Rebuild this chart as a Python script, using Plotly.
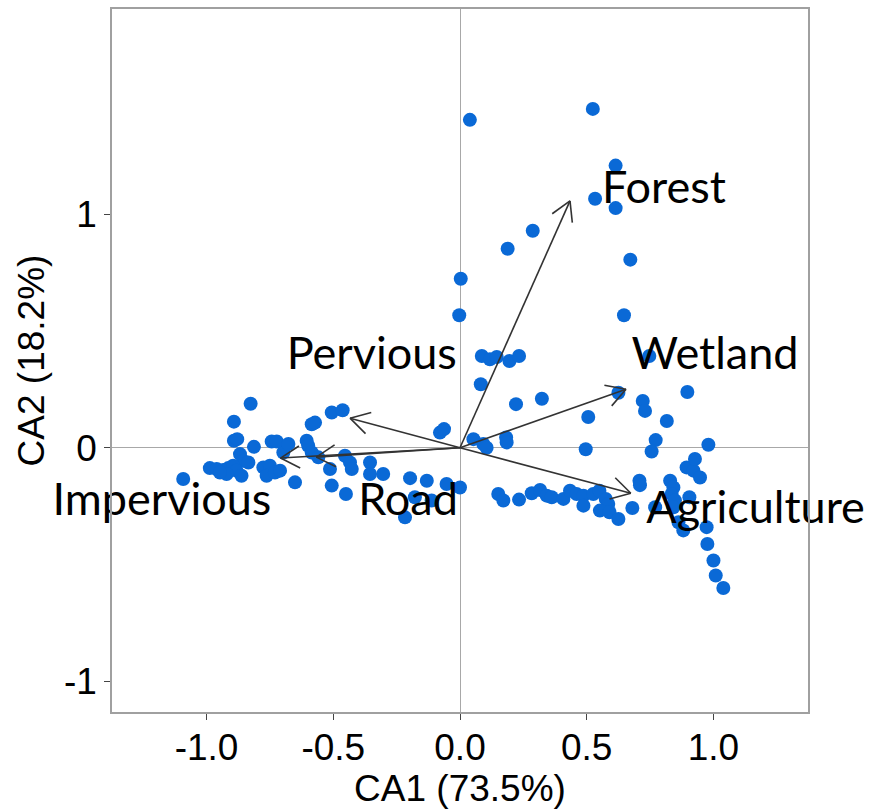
import math
import plotly.graph_objects as go

# Site scores on the first two correspondence-analysis axes
ca1 = [
    0.039, 0.524, 0.614, 0.533, 0.614, 0.287, 0.188, 0.672, 0.003, -0.003,
    0.647, 0.086, 0.118, 0.145, 0.195, 0.233, 0.747,
    0.082, 0.221, 0.323, 0.506, 0.625, 0.897, 0.721, 0.730, 0.816,
    0.772, 0.756, 0.980, 0.496, 0.053, 0.092, 0.105, 0.182, 0.184,
    -0.053, 0.000, 0.151, 0.171, 0.233, 0.283, 0.316, 0.342, 0.362, 0.408,
    0.434, 0.460, 0.487, 0.487, 0.526, 0.550, 0.575, 0.585, 0.552, 0.590,
    0.625, 0.680, 0.708, 0.710, 0.770, 0.829, 0.842, 0.835, 0.848, 0.842,
    0.862, 0.881, 0.894, 0.921, 0.927, 0.947, 0.905, 0.973, 0.976, 1.000,
    1.009, 1.039,
    -0.079, -0.063, -0.197, -0.131, -0.178, -0.112, -0.217, -0.355, -0.355,
    -0.303, -0.454, -0.434, -0.427, -0.513, -0.506, -0.450, -0.506, -0.463,
    -0.585, -0.572, -0.605, -0.599, -0.585, -0.559, -0.651, -0.697, -0.826,
    -0.892, -0.892, -0.879, -0.813, -0.743, -0.723, -0.677, -0.868, -0.855,
    -0.835, -0.987, -0.960, -0.934, -0.914, -0.895, -0.882, -0.862, -0.921,
    -0.947, -0.776, -0.750, -0.763, -0.730, -0.710, -1.092,
]
ca2 = [
    1.405, 1.452, 1.209, 1.067, 1.027, 0.930, 0.853, 0.806, 0.724, 0.568,
    0.568, 0.393, 0.379, 0.389, 0.372, 0.393, 0.393,
    0.272, 0.187, 0.210, 0.132, 0.236, 0.239, 0.201, 0.158, 0.115,
    0.033, -0.016, 0.013, -0.006, 0.037, 0.016, 0.000, 0.044, 0.023,
    -0.155, -0.170, -0.198, -0.226, -0.222, -0.195, -0.181, -0.205, -0.212, -0.219,
    -0.184, -0.198, -0.205, -0.248, -0.198, -0.184, -0.219, -0.241, -0.269, -0.276,
    -0.305, -0.258, -0.141, -0.160, -0.255, -0.141, -0.170, -0.198, -0.226, -0.255,
    -0.319, -0.354, -0.084, -0.098, -0.048, -0.127, -0.212, -0.340, -0.412, -0.483,
    -0.547, -0.601,
    0.065, 0.080, -0.130, -0.141, -0.212, -0.226, -0.298, -0.063, -0.112,
    -0.112, -0.034, -0.063, -0.091, -0.091, -0.162, -0.198, 0.151, 0.161,
    0.101, 0.108, 0.030, 0.009, -0.020, -0.041, -0.148, -0.020, 0.189,
    0.112, 0.030, 0.037, 0.004, 0.027, 0.027, 0.016, -0.027, -0.056,
    -0.063, -0.087, -0.091, -0.095, -0.087, -0.077, -0.098, -0.120, -0.112,
    -0.106, -0.084, -0.077, -0.120, -0.106, -0.098, -0.134,
]

# Land-cover variable loadings (arrow tips) and label anchors
variables = ["Forest", "Wetland", "Agriculture", "Pervious", "Impervious", "Road"]
load_x = [0.434, 0.655, 0.674, -0.434, -0.708, -0.567]
load_y = [1.058, 0.251, -0.195, 0.127, -0.044, -0.040]
label_x = [0.805, 1.006, 1.166, -0.348, -1.176, -0.205]
label_y = [1.098, 0.385, -0.274, 0.385, -0.240, -0.240]

x_ticks = [-1.0, -0.5, 0.0, 0.5, 1.0]
x_tick_text = ["-1.0", "-0.5", "0.0", "0.5", "1.0"]
y_ticks = [-1, 0, 1]
y_tick_text = ["-1", "0", "1"]

X_RANGE = [-1.373, 1.373]
Y_RANGE = [-1.132, 1.880]
W, H = 869, 811
M = dict(l=112, r=61, t=7, b=99)

fig = go.Figure()

fig.add_trace(go.Scatter(
    x=ca1, y=ca2, mode="markers",
    marker=dict(size=14, color="#0a69d6", line=dict(width=0)),
    hoverinfo="skip", showlegend=False,
))

# Pixel scale of each axis, used to give the open arrowheads a fixed size
sx = (W - M["l"] - M["r"]) / (X_RANGE[1] - X_RANGE[0])
sy = (H - M["t"] - M["b"]) / (Y_RANGE[1] - Y_RANGE[0])
head_len = 22.0
head_ang = math.radians(30)

ax, ay = [], []
for tx, ty in zip(load_x, load_y):
    ax += [0.0, tx, None]
    ay += [0.0, ty, None]
    ang = math.atan2(ty * sy, tx * sx)
    for s in (1, -1):
        a = ang + math.pi + s * head_ang
        ax += [tx + head_len * math.cos(a) / sx, tx, None]
        ay += [ty + head_len * math.sin(a) / sy, ty, None]

fig.add_trace(go.Scatter(
    x=ax, y=ay, mode="lines",
    line=dict(color="#333333", width=1.6),
    hoverinfo="skip", showlegend=False,
))

fig.add_trace(go.Scatter(
    x=label_x, y=label_y, mode="text", text=variables,
    textposition="middle center",
    textfont=dict(family="Lato", size=45, color="black"),
    cliponaxis=False,
    hoverinfo="skip", showlegend=False,
))

axis_font = dict(family="Liberation Sans, Arial", size=37, color="black")

fig.update_layout(
    width=W, height=H, margin=M,
    paper_bgcolor="white", plot_bgcolor="white",
    xaxis=dict(
        range=X_RANGE, tickvals=x_ticks, ticktext=x_tick_text,
        showgrid=False, zeroline=True, zerolinecolor="#a8a8a8", zerolinewidth=1,
        showline=True, mirror=True, linecolor="#a0a0a0", linewidth=1.5,
        ticks="outside", ticklen=6, tickcolor="#444444", tickwidth=1,
        ticklabelstandoff=-4,
        tickfont=axis_font,
        title=dict(text="CA1 (73.5%)", font=axis_font, standoff=0),
    ),
    yaxis=dict(
        range=Y_RANGE, tickvals=y_ticks, ticktext=y_tick_text,
        showgrid=False, zeroline=True, zerolinecolor="#a8a8a8", zerolinewidth=1,
        showline=True, mirror=True, linecolor="#a0a0a0", linewidth=1.5,
        ticks="outside", ticklen=6, tickcolor="#444444", tickwidth=1,
        tickfont=axis_font,
        title=dict(text="CA2 (18.2%)", font=axis_font, standoff=8),
    ),
)

fig.write_html("out.html")
